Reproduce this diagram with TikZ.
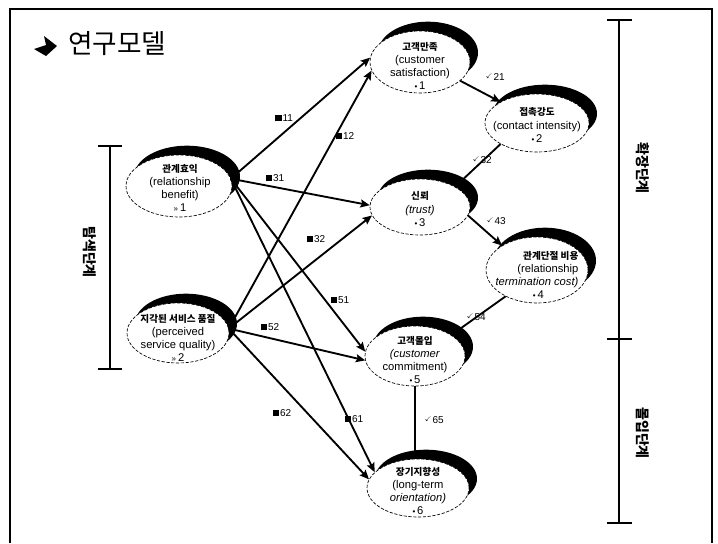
\documentclass[tikz,border=0pt]{standalone}
\usepackage{fontspec}
\usepackage{amssymb}
\setmainfont{Liberation Sans}
\newfontfamily\kr{Noto Sans CJK KR}
\usetikzlibrary{shapes.geometric,shadows,arrows.meta}
\newcommand{\sqmark}{\rule{5pt}{5pt}\hspace{0.6pt}}
\newcommand{\tckmark}{\raisebox{1.5pt}{\tiny$\checkmark$}\hspace{0.5pt}}
\newcommand{\dotmark}{{\fontsize{6}{6}\selectfont •}\,}
\newcommand{\hatmark}{{\fontsize{6}{6}\selectfont »}\,}
\newcommand{\krl}[1]{{\kr\bfseries\fontsize{7.2}{9.8}\selectfont #1}}
\begin{document}
\begin{tikzpicture}[x=0.75pt,y=-0.75pt,
  var/.style={ellipse, draw, dash pattern=on 2.4pt off 1.2pt, line width=0.5pt,
    fill=white, inner sep=0pt,
    general shadow={fill=black, draw=none, shadow xshift=6pt, shadow yshift=7pt}},
  lab/.style={align=center, font=\fontsize{8.4}{9.8}\selectfont, inner sep=0pt},
  conn/.style={line width=1.4pt, -{Stealth[length=7pt,width=6pt,inset=1.2pt]}},
  plainconn/.style={line width=1.4pt},
  glab/.style={font=\fontsize{7.5}{8}\selectfont, inner sep=0pt},
  stagelab/.style={font=\kr\bfseries\fontsize{10.5}{10.5}\selectfont, rotate=-90, inner sep=0pt},
  bar/.style={line width=1.6pt},
  frame/.style={line width=1.6pt}
]
\useasboundingbox (0,0) rectangle (718,543);

% frame
\draw[frame] (10,543) -- (10,9) -- (712,9) -- (712,543);

% title
\fill (34,49) -- (46,45) -- (44,36) -- (57,46) -- (46,56) -- cycle;
\node[anchor=west, inner sep=0pt, font=\kr\fontsize{20}{20}\selectfont] (title) at (68,44) {연구모델};

% stage brackets
\draw[bar] (98,146) -- (122,146);
\draw[bar] (110,146) -- (110,369);
\draw[bar] (98,369) -- (122,369);
\node[stagelab] (s1) at (90,252) {탐색단계};

\draw[bar] (607,20) -- (632,20);
\draw[bar] (619,20) -- (619,523);
\draw[bar] (607,339) -- (632,339);
\draw[bar] (607,523) -- (632,523);
\node[stagelab] (s2) at (643,168) {확장단계};
\node[stagelab] (s3) at (643,433) {몰입단계};

% variables
\node[var, minimum width=79.5pt, minimum height=46.5pt] (rb) at (179,186) {};
\node[var, minimum width=76.5pt, minimum height=45pt] (psq) at (178,333) {};
\node[var, minimum width=75pt, minimum height=46.5pt] (cs) at (420,62) {};
\node[var, minimum width=78pt, minimum height=43.5pt] (ci) at (537,123) {};
\node[var, minimum width=75pt, minimum height=42pt] (tr) at (420,207) {};
\node[var, minimum width=76.5pt, minimum height=49.5pt] (rtc) at (537,270) {};
\node[var, minimum width=75pt, minimum height=45pt] (cc) at (415,356) {};
\node[var, minimum width=76.5pt, minimum height=43.5pt] (lto) at (418,488) {};

\node[lab] (rbt) at (180,188) {\krl{관계효익}\\(relationship\\benefit)\\\hatmark 1};
\node[lab] (psqt) at (178,338) {\krl{지각된 서비스 품질}\\(perceived\\service quality)\\\hatmark 2};
\node[lab] (cst) at (420,66) {\krl{고객만족}\\(customer\\satisfaction)\\\dotmark 1};
\node[lab] (cit) at (537,125) {\krl{접촉강도}\\(contact intensity)\\\dotmark 2};
\node[lab] (trt) at (420,209) {\krl{신뢰}\\\textit{(trust)}\\\dotmark 3};
\node[lab, align=right] (rtct) at (537,275) {\krl{관계단절 비용}\\(relationship\\\textit{termination cost)}\\\dotmark 4\hspace*{26pt}};
\node[lab] (cct) at (415,360) {\krl{고객몰입}\\\textit{(customer}\\commitment)\\\dotmark 5};
\node[lab] (ltot) at (418,491) {\krl{장기지향성}\\(long-term\\\textit{orientation)}\\\dotmark 6};

% gamma paths
\draw[conn] (rb.8) -- (cs.175);
\draw[conn] (rb.8) -- (tr.178);
\draw[conn] (rb.8) -- (cc.175);
\draw[conn] (rb.8) -- (lto.160);
\draw[conn] (psq.5) -- (cs.190);
\draw[conn] (psq.5) -- (tr.190);
\draw[conn] (psq.5) -- (cc.185);
\draw[conn] (psq.5) -- (lto.170);

% beta paths
\draw[conn] (cs.-25) -- (ci.150);
\draw[plainconn] (ci.-150) -- (tr.30);
\draw[conn] (tr.-10) -- (rtc.145);
\draw[plainconn] (rtc.-140) -- (cc.30);
\draw[plainconn] (cc.south) -- (cc.south |- lto.north);

% labels
\node[glab] (g11) at (284,118) {\sqmark11};
\node[glab] (g12) at (345,136) {\sqmark12};
\node[glab] (g31) at (275,178) {\sqmark31};
\node[glab] (g32) at (316,239) {\sqmark32};
\node[glab] (g51) at (340,300) {\sqmark51};
\node[glab] (g52) at (270,327) {\sqmark52};
\node[glab] (g62) at (282,413) {\sqmark62};
\node[glab] (g61) at (354,419) {\sqmark61};

\node[glab] (b21) at (495,77) {\tckmark21};
\node[glab] (b32) at (482,160) {\tckmark32};
\node[glab] (b43) at (496,221) {\tckmark43};
\node[glab] (b54) at (476,317) {\tckmark54};
\node[glab] (b65) at (434,420) {\tckmark65};
\end{tikzpicture}
\end{document}
